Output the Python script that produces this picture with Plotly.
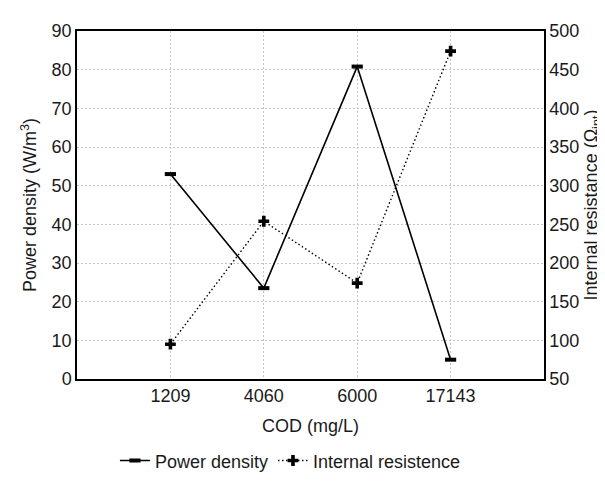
import plotly.graph_objects as go

categories = ["1209", "4060", "6000", "17143"]
power_density = [53.0, 23.5, 80.8, 5.0]
internal_resistance = [95, 254, 174, 474]
left_ticks = [0, 10, 20, 30, 40, 50, 60, 70, 80, 90]
right_ticks = [50, 100, 150, 200, 250, 300, 350, 400, 450, 500]

FONT = "Liberation Sans, Arial, sans-serif"
FS = 18
GRID = "#c4c4c4"

fig = go.Figure()
fig.add_trace(go.Scatter(
    x=categories, y=power_density, name="Power density",
    mode="lines+markers",
    line=dict(color="black", width=1.6),
    marker=dict(symbol="line-ew", size=8, line=dict(color="black", width=4)),
    yaxis="y",
))
fig.add_trace(go.Scatter(
    x=categories, y=internal_resistance, name="Internal resistence",
    mode="lines+markers",
    line=dict(color="black", width=1.4, dash="1.5px,2.5px"),
    marker=dict(symbol="cross", size=9, color="black"),
    yaxis="y2",
))

fig.update_layout(
    width=605, height=483,
    margin=dict(l=69, r=69, t=23, b=94),
    paper_bgcolor="white", plot_bgcolor="white",
    font=dict(family=FONT, size=FS, color="#1a1a1a"),
    showlegend=True,
    legend=dict(orientation="h", x=0.457, xanchor="center", y=-0.235, yanchor="middle",
                font=dict(size=FS), itemwidth=30, bgcolor="rgba(0,0,0,0)",
                tracegroupgap=0),
    xaxis=dict(
        type="category", range=[-1, 4], automargin=False,
        title=dict(text="COD (mg/L)", font=dict(size=FS), standoff=14),
        showline=True, linecolor="black", linewidth=1.5, mirror=True,
        showgrid=True, gridcolor=GRID, griddash="2px,2px", gridwidth=1,
        ticks="", tickfont=dict(size=FS), zeroline=False,
    ),
    yaxis=dict(
        range=[0, 90], tickvals=left_ticks, automargin=False,
        title=dict(text="Power density (W/m<sup>3</sup>)", font=dict(size=FS), standoff=10),
        showline=True, linecolor="black", linewidth=1.5,
        showgrid=True, gridcolor=GRID, griddash="2px,2px", gridwidth=1,
        ticks="", tickfont=dict(size=FS), zeroline=False,
    ),
    yaxis2=dict(
        range=[50, 500], tickvals=right_ticks, automargin=False,
        overlaying="y", side="right",
        title=dict(text="Internal resistance (Ω<sub>int</sub>)", font=dict(size=FS), standoff=6),
        showline=True, linecolor="black", linewidth=1.5,
        showgrid=False, ticks="",
        tickfont=dict(size=FS), zeroline=False,
    ),
)

fig.write_html("out.html")
